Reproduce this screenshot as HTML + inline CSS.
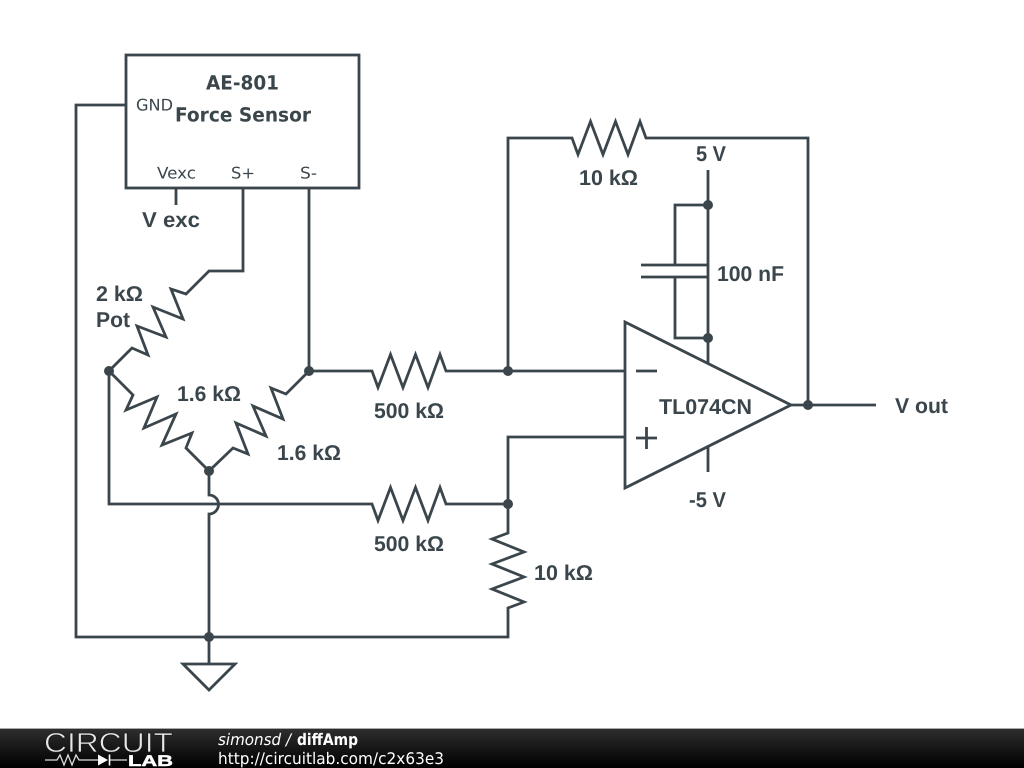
<!DOCTYPE html>
<html>
<head>
<meta charset="utf-8">
<style>
html,body{margin:0;padding:0;background:#fff;width:1024px;height:768px;overflow:hidden}
svg{display:block}
.w{fill:none;stroke:#3b464c;stroke-width:2.8;stroke-linejoin:miter;stroke-linecap:butt}
.d{fill:#3b464c}
.l{font-family:"Liberation Sans",sans-serif;font-weight:bold;font-size:21.4px;fill:#3b464c}
.b{font-family:"DejaVu Sans",sans-serif;font-weight:bold;font-size:19.5px;fill:#3b464c}
.p{font-family:"DejaVu Sans",sans-serif;font-size:16px;fill:#3b464c}
.f{font-family:"DejaVu Sans",sans-serif;font-size:16px;fill:#fff}
text{text-rendering:geometricPrecision}
</style>
</head>
<body>
<svg width="1024" height="768" viewBox="0 0 1024 768" xmlns="http://www.w3.org/2000/svg">
<defs>
<linearGradient id="g" x1="0" y1="0" x2="0" y2="1">
<stop offset="0" stop-color="#2e2e2e"/>
<stop offset="0.5" stop-color="#161616"/>
<stop offset="1" stop-color="#000"/>
</linearGradient>
</defs>
<rect width="1024" height="768" fill="#fff"/>

<!-- Sensor box -->
<rect class="w" x="126" y="55" width="233" height="133"/>
<text class="b" x="206" y="89.500" textLength="73" lengthAdjust="spacingAndGlyphs">AE-801</text>
<text class="b" x="175" y="121.500" textLength="136" lengthAdjust="spacingAndGlyphs">Force Sensor</text>
<text class="p" x="136" y="110.500" textLength="37" lengthAdjust="spacingAndGlyphs">GND</text>
<text class="p" x="157" y="178.500" textLength="39" lengthAdjust="spacingAndGlyphs">Vexc</text>
<text class="p" x="231" y="178.500" textLength="24" lengthAdjust="spacingAndGlyphs">S+</text>
<text class="p" x="300" y="178.500" textLength="17" lengthAdjust="spacingAndGlyphs">S-</text>

<!-- Wires -->
<path class="w" d="M126 105H76V637H508V608L524 602L492 589L524 577L492 564L524 552L492 539L508 533V437H625"/>
<path class="w" d="M176 188V205"/>
<path class="w" d="M243 188V271H209L186 294L171 289L183 319L153 307L166 337L137 326L148 355L132 348L109 371V504H372L378 520.500L390.500 487.500L403 520.500L415.500 487.500L428 520.500L440 487.500L446 504H508"/>
<path class="w" d="M309 188V371H372L378 387.500L390.500 354.500L403 387.500L415.500 354.500L428 387.500L440 354.500L446 371H625"/>
<path class="w" d="M508 371V138H572L578 154.500L590.500 121.500L603 154.500L615.500 121.500L628 154.500L640 121.500L646 138H808V405"/>
<path class="w" d="M109 371L133 395L126 410L157 397L144 428L176 414L162 445L192 433L186 448L209 471L233 448L248 454L236 423L266 436L253 406L283 419L271 388L286 394L309 371"/>
<path class="w" d="M209 471V495A9.500 9.500 0 0 1 209 514V664"/>

<!-- Ground -->
<path class="w" d="M183 664H235L209 690Z"/>

<!-- Op amp -->
<path class="w" d="M625 322L791 405L625 488Z"/>
<path class="w" d="M636 371H657M636 438H657M646.500 427V449"/>
<path class="w" d="M791 405H876"/>
<path class="w" d="M708 170V364M708 446V472"/>

<!-- Capacitor -->
<path class="w" d="M708 205H675V265M675 277V338H708"/>
<path class="w" d="M641 265H708M641 277H708"/>

<!-- Junction dots -->
<circle class="d" cx="109" cy="371" r="5"/>
<circle class="d" cx="309" cy="371" r="5"/>
<circle class="d" cx="209" cy="471" r="5"/>
<circle class="d" cx="508" cy="371" r="5"/>
<circle class="d" cx="508" cy="504" r="5"/>
<circle class="d" cx="209" cy="637" r="5"/>
<circle class="d" cx="708" cy="205" r="5"/>
<circle class="d" cx="708" cy="338" r="5"/>
<circle class="d" cx="808" cy="405" r="5"/>

<!-- Labels -->
<text class="l" x="142" y="227" textLength="58" lengthAdjust="spacingAndGlyphs">V exc</text>
<text class="l" x="96" y="301" textLength="47" lengthAdjust="spacingAndGlyphs">2 kΩ</text>
<text class="l" x="96" y="327" textLength="34" lengthAdjust="spacingAndGlyphs">Pot</text>
<text class="l" x="177" y="401" textLength="64" lengthAdjust="spacingAndGlyphs">1.6 kΩ</text>
<text class="l" x="277" y="460" textLength="64" lengthAdjust="spacingAndGlyphs">1.6 kΩ</text>
<text class="l" x="374" y="418" textLength="70" lengthAdjust="spacingAndGlyphs">500 kΩ</text>
<text class="l" x="374" y="551" textLength="70" lengthAdjust="spacingAndGlyphs">500 kΩ</text>
<text class="l" x="534" y="580" textLength="59" lengthAdjust="spacingAndGlyphs">10 kΩ</text>
<text class="l" x="579" y="185" textLength="59" lengthAdjust="spacingAndGlyphs">10 kΩ</text>
<text class="l" x="696" y="161" textLength="30" lengthAdjust="spacingAndGlyphs">5 V</text>
<text class="l" x="717" y="281" textLength="67" lengthAdjust="spacingAndGlyphs">100 nF</text>
<text class="l" x="659" y="414" textLength="93" lengthAdjust="spacingAndGlyphs">TL074CN</text>
<text class="l" x="689" y="507" textLength="37" lengthAdjust="spacingAndGlyphs">-5 V</text>
<text class="l" x="895" y="413" textLength="53" lengthAdjust="spacingAndGlyphs">V out</text>

<!-- Footer -->
<rect x="0" y="729" width="1024" height="39" fill="url(#g)"/>
<rect x="0" y="728" width="1024" height="1" fill="#a8a8a8"/>
<text x="44" y="752" font-family="'Liberation Sans',sans-serif" font-size="27.500" fill="#e8e8e8" stroke="#1a1a1a" stroke-width="0.7" textLength="129" lengthAdjust="spacingAndGlyphs">CIRCUIT</text>
<path d="M45 760H57L60 755L64 765L68 755L72 765L76 755L79 760H98M109 760H127" fill="none" stroke="#ddd" stroke-width="1.300"/>
<path d="M98 754.500L108 760L98 765.500Z" fill="#fff"/>
<path d="M109.500 754.500V765.500" stroke="#fff" stroke-width="1.600"/>
<text x="128" y="766" font-family="'Liberation Sans',sans-serif" font-weight="bold" font-size="15.500" fill="#fff" stroke="#fff" stroke-width="0.5" textLength="45" lengthAdjust="spacingAndGlyphs">LAB</text>
<text class="f" x="218" y="745" textLength="73" lengthAdjust="spacingAndGlyphs" font-style="italic">simonsd /</text>
<text class="f" x="297" y="745" textLength="61" lengthAdjust="spacingAndGlyphs" font-weight="bold">diffAmp</text>
<text class="f" x="218" y="764" textLength="226" lengthAdjust="spacingAndGlyphs">http://circuitlab.com/c2x63e3</text>
</svg>
</body>
</html>
